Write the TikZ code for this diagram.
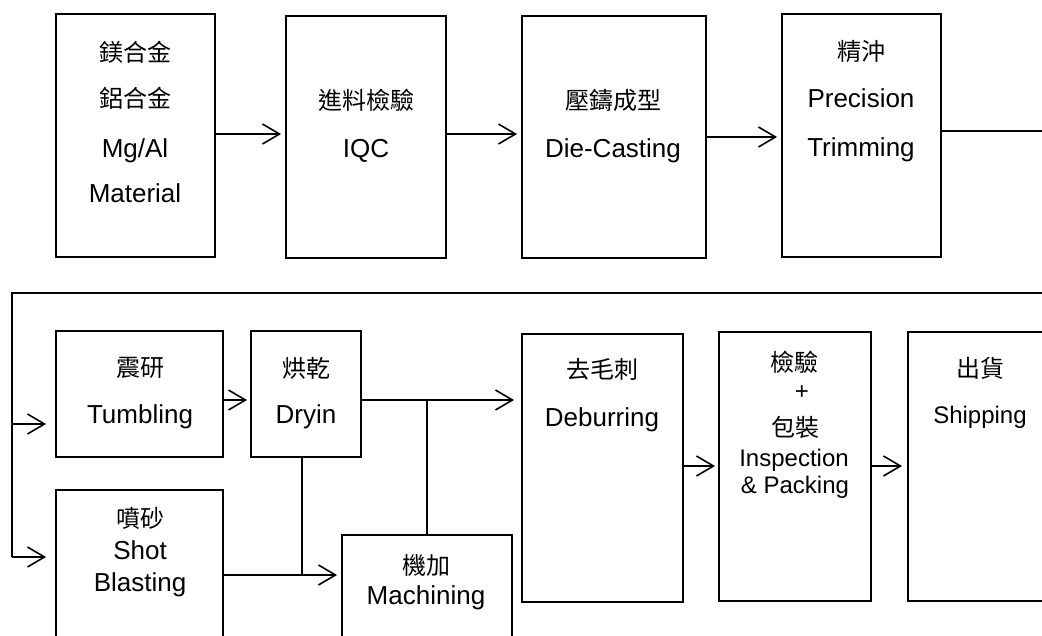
\documentclass[tikz,border=0pt]{standalone}
\usepackage{fontspec}
\setmainfont{Liberation Sans}
\newfontfamily\cjk{Noto Sans CJK TC}
\usetikzlibrary{arrows.meta}
\tikzset{
  stepbox/.style={draw, line width=1.9pt, inner sep=0pt},
  cjktext/.style={font=\cjk\fontsize{24}{28}\selectfont, inner sep=0pt},
  entext/.style={font=\fontsize{26}{30}\selectfont, inner sep=0pt, anchor=base},
  smalltext/.style={font=\fontsize{24}{28}\selectfont, inner sep=0pt, anchor=base},
  wire/.style={line width=1.6pt},
  flow/.style={wire, shorten >=4pt, -{Straight Barb[length=17pt, width=20pt]}}
}
\begin{document}
\begin{tikzpicture}[x=1pt, y=-1pt, line join=miter]
    \useasboundingbox (0,0) rectangle (1042,635);
    \fill[white] (0,0) rectangle (1042,635);
    \clip (0,0) rectangle (1042,635);
    % ============= boxes: name/x/y/width/height
    \foreach \n/\x/\y/\w/\h in {mat/135.5/135.5/159/243, iqc/366/137/160/242, die/614/137/184/242,
        trim/861.5/135.5/159/243, tumb/139.5/394/167/126, dry/306/394/110/126,
        shot/139.5/580/167/180, mach/427/602.5/170/135, debur/602.5/468/161/268,
        insp/795/466.5/152/269, ship/989/466.5/162/269}{
    \node[stepbox, minimum width=\w pt, minimum height=\h pt] (\n) at (\x,\y) {};
    }
    % ============= Chinese labels
    \foreach \d/\n/\t in {(135,52)/mat-c1/鎂合金, (135,98)/mat-c2/鋁合金, (366,100)/iqc-c/進料檢驗,
        (613,100)/die-c/壓鑄成型, (861,52)/trim-c/精沖, (140,368)/tumb-c/震研, (306,368)/dry-c/烘乾,
        (140,518)/shot-c/噴砂, (426,565)/mach-c/機加, (602,369)/debur-c/去毛刺,
        (794,362)/insp-c1/檢驗, (795,427)/insp-c2/包裝, (980,368)/ship-c/出貨}{
    \node[cjktext] (\n) at \d {\t};
    }
    % ============= English labels
    \foreach \d/\n/\t in {(135,157)/mat-e1/Mg\slash Al, (135,202)/mat-e2/Material, (366,157)/iqc-e/IQC,
        (613,157)/die-e/Die-Casting, (861,107)/trim-e1/Precision, (861,156)/trim-e2/Trimming,
        (140,423)/tumb-e/Tumbling, (306,423)/dry-e/Dryin, (140,559)/shot-e1/Shot,
        (140,591)/shot-e2/Blasting, (426,604)/mach-e/Machining, (602,426)/debur-e/Deburring}{
    \node[entext] (\n) at \d {\t};
    }
    \node[smalltext, anchor=center] (insp-p) at (802,393) {+};
    \foreach \d/\n/\t in {(794,466)/insp-e1/Inspection, (795,493)/insp-e2/\& Packing, (980,423)/ship-e/Shipping}{
    \node[smalltext] (\n) at \d {\t};
    }
    % ============= first row
    \coordinate (r1a) at (0,134);
    \coordinate (r1b) at (0,137);
    \coordinate (exit) at (1050,131);
    \draw[flow] (mat.east |- r1a) -- (iqc.west |- r1a);
    \draw[flow] (iqc.east |- r1a) -- (die.west |- r1a);
    \draw[flow] (die.east |- r1b) -- (trim.west |- r1b);
    \draw[wire] (trim.east |- exit) -- (exit);
    % ============= feed line
    \coordinate (feed) at (1050,293);
    \coordinate (bend) at (12,293);
    \coordinate (tin) at (12,424);
    \coordinate (sin) at (12,557);
    \draw[wire] (feed) -- (bend) -- (sin);
    \draw[flow, shorten >=9pt] (tin) -- (tin -| tumb.west);
    \draw[flow, shorten >=9pt] (sin) -- (sin -| shot.west);
    % ============= second row
    \coordinate (dout) at (0,400);
    \coordinate (sout) at (0,575);
    \coordinate (r2) at (0,466);
    \coordinate (drop) at (302,0);
    \draw[flow, shorten >=3pt] (tumb.east |- dout) -- (dry.west |- dout);
    \draw[flow, shorten >=7pt] (dry.east |- dout) -- (debur.west |- dout);
    \draw[wire] (mach.north) -- (mach.north |- dout);
    \draw[wire] (drop |- dry.south) -- (drop |- sout);
    \draw[flow] (shot.east |- sout) -- (mach.west |- sout);
    \draw[flow, shorten >=3pt] (debur.east |- r2) -- (insp.west |- r2);
    \draw[flow, shorten >=5pt] (insp.east |- r2) -- (ship.west |- r2);
\end{tikzpicture}
\end{document}
